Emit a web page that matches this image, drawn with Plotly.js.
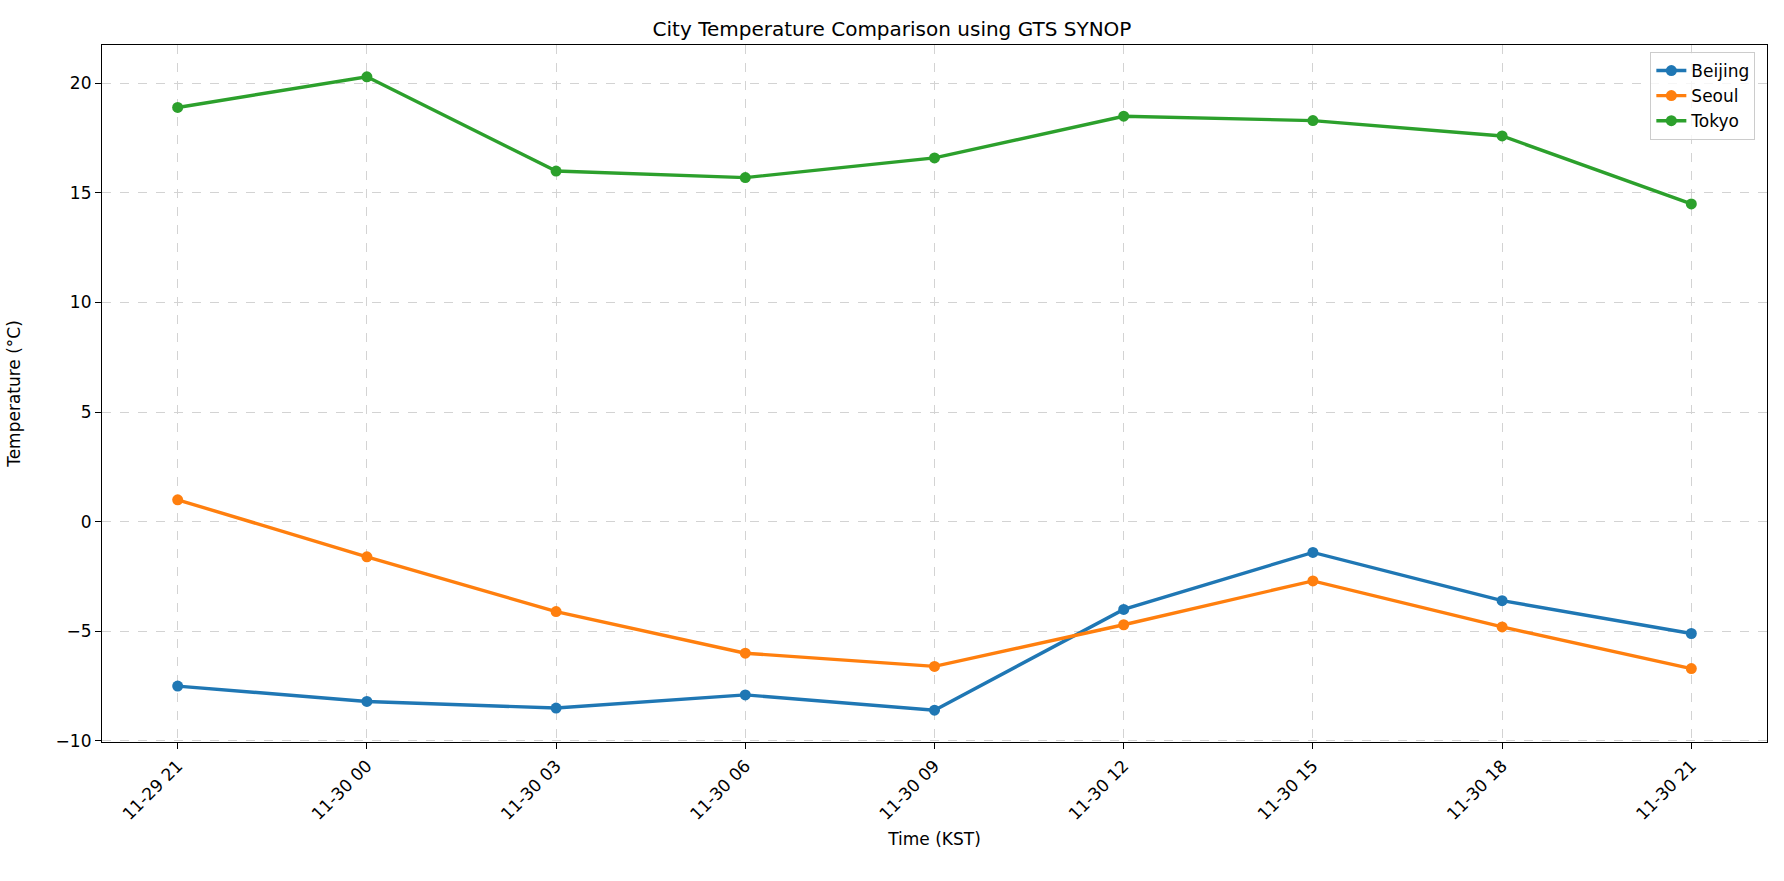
<!DOCTYPE html>
<html>
<head>
<script src="https://cdn.plot.ly/plotly-3.0.1.min.js"></script>
<style>body{margin:0;background:#fff}</style>
</head>
<body>
<div id="chart" style="width:1784px;height:881px"></div>
<script>
var times = ['11-29 21','11-30 00','11-30 03','11-30 06','11-30 09','11-30 12','11-30 15','11-30 18','11-30 21'];
var beijing = [-7.5, -8.2, -8.5, -7.9, -8.6, -4.0, -1.4, -3.6, -5.1];
var seoul = [1.0, -1.6, -4.1, -6.0, -6.6, -4.7, -2.7, -4.8, -6.7];
var tokyo = [18.9, 20.3, 16.0, 15.7, 16.6, 18.5, 18.3, 17.6, 14.5];

function line(name, y, color){
    return {
        x: times, y: y, name: name, type: 'scatter', mode: 'lines+markers',
        line: {color: color, width: 3.4},
        marker: {color: color, size: 11}
    };
}
var data = [line('Beijing', beijing, '#1f77b4'), line('Seoul', seoul, '#ff7f0e'), line('Tokyo', tokyo, '#2ca02c')];
var axisStyle = {
    showline: true, mirror: true, linecolor: '#000', linewidth: 1.2,
    ticks: 'outside', ticklen: 6, tickcolor: '#000',
    showgrid: true, gridcolor: '#d3d3d3', griddash: 'dash', gridwidth: 1,
    zeroline: false, tickfont: {size: 17, color: '#000'}
};
var layout = {
    font: {family: 'DejaVu Sans', color: '#000'},
    title: {text: 'City Temperature Comparison using GTS SYNOP', font: {size: 20}, x: 0.5, y: 0.975},
    margin: {l: 102, r: 17, t: 45, b: 139},
    paper_bgcolor: '#fff', plot_bgcolor: '#fff',
    xaxis: Object.assign({}, axisStyle, {
        type: 'category', range: [-0.4, 8.4], tickangle: -45,
        title: {text: 'Time (KST)', font: {size: 17}, standoff: 10}
    }),
    yaxis: Object.assign({}, axisStyle, {
        range: [-10.05, 21.75], dtick: 5,
        title: {text: 'Temperature (°C)', font: {size: 17}, standoff: 30}
    }),
    legend: {
        x: 0.993, y: 0.99, xanchor: 'right', yanchor: 'top',
        bordercolor: '#ccc', borderwidth: 1, bgcolor: 'rgba(255,255,255,0.8)',
        font: {size: 17}
    },
    showlegend: true
};
Plotly.newPlot('chart', data, layout, {displayModeBar: false});
</script>
</body>
</html>
